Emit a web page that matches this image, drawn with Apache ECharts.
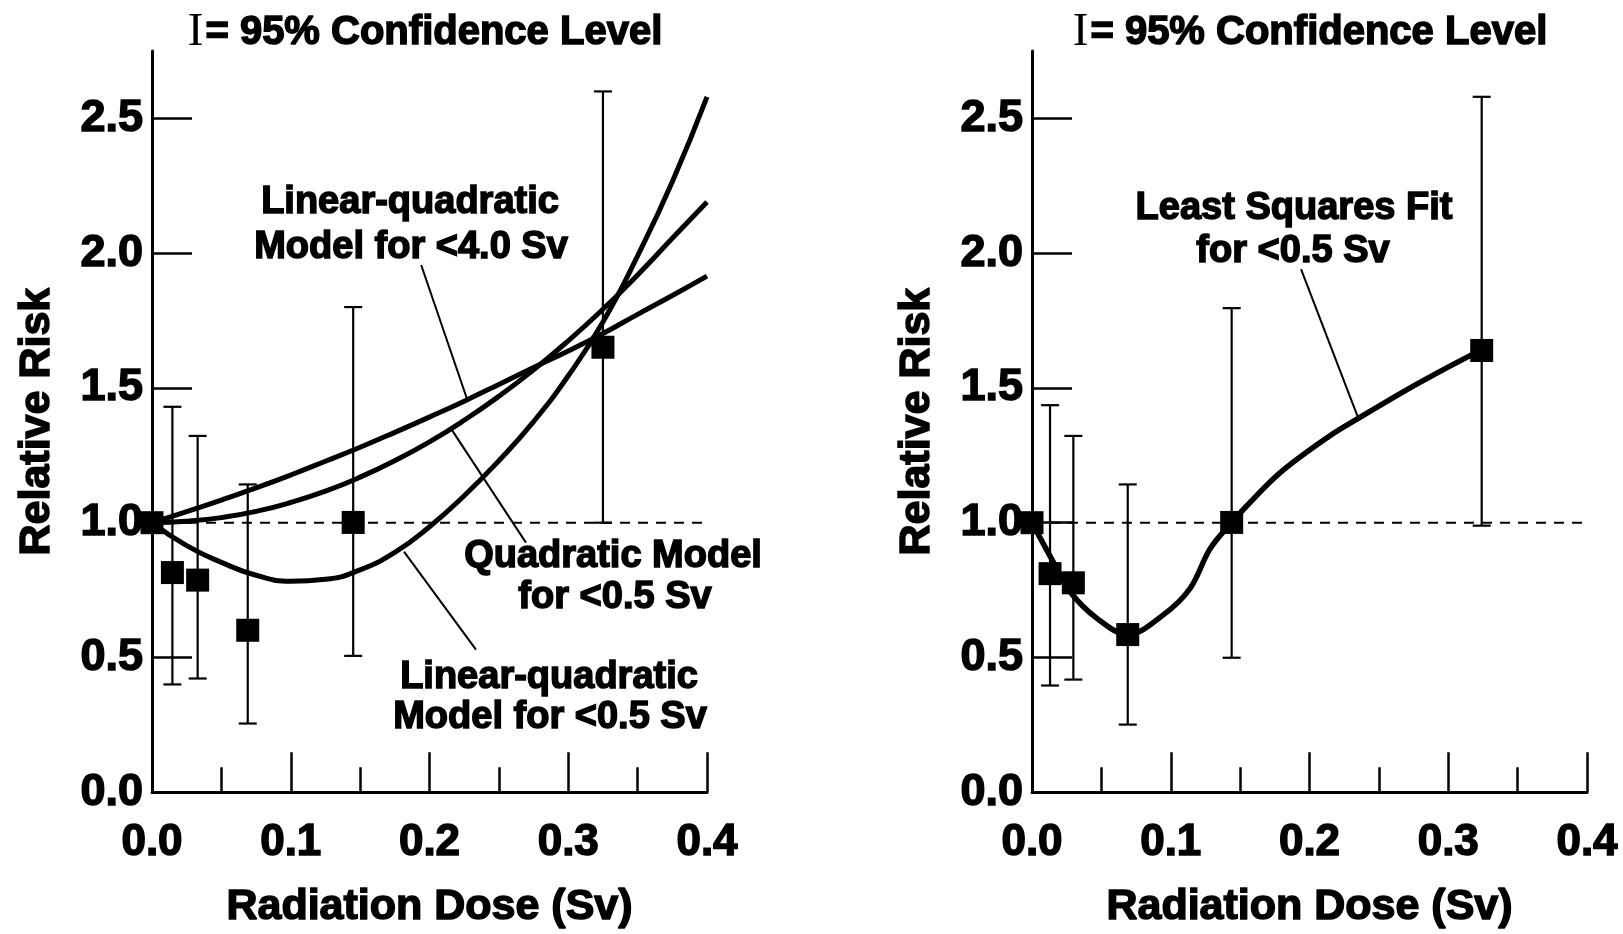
<!DOCTYPE html>
<html>
<head>
<meta charset="utf-8">
<script src="https://cdn.jsdelivr.net/npm/echarts@6/dist/echarts.min.js"></script>
<style>
html,body{margin:0;padding:0;background:#fff;}
#chart{width:1623px;height:934px;}
</style>
</head>
<body>
<div id="chart"></div>
<script>
// ---------- data ----------
const yLabelValues = [0, 0.5, 1.0, 1.5, 2.0, 2.5];
const yTickValues = [0.5, 1.0, 1.5, 2.0, 2.5];

// model curves (left panel), sampled along dose
const curveDose = [0, 0.025, 0.05, 0.075, 0.1, 0.125, 0.15, 0.175, 0.2, 0.225, 0.25, 0.275, 0.3, 0.325, 0.35, 0.375, 0.4];
const linQuad40 = [1.0, 1.041, 1.084, 1.129, 1.177, 1.228, 1.280, 1.335, 1.392, 1.451, 1.513, 1.576, 1.637, 1.702, 1.773, 1.843, 1.915];
const quadratic05 = [1.0, 1.005, 1.019, 1.042, 1.075, 1.117, 1.169, 1.230, 1.300, 1.380, 1.469, 1.567, 1.675, 1.792, 1.919, 2.055, 2.19];
const linQuad05 = [1.0, 0.915, 0.853, 0.805, 0.783, 0.790, 0.825, 0.890, 0.985, 1.100, 1.230, 1.375, 1.545, 1.745, 1.990, 2.265, 2.58];

// observed points (left panel)
const obsDoseL = [0, 0.0147, 0.0329, 0.069, 0.145, 0.325];
const obsRiskL = [1.0, 0.815, 0.787, 0.601, 1.001, 1.651];
const ciLowL = [null, 0.40, 0.422, 0.255, 0.506, 1.0];
const ciHighL = [null, 1.43, 1.322, 1.142, 1.80, 2.60];

// observed points (right panel)
const obsDoseR = [0, 0.013, 0.0298, 0.069, 0.1439, 0.3241];
const obsRiskR = [1.0, 0.811, 0.777, 0.585, 1.001, 1.639];
const ciLowR = [null, 0.396, 0.418, 0.251, 0.499, 0.989];
const ciHighR = [null, 1.436, 1.322, 1.142, 1.796, 2.58];

// least squares fit (right panel)
const lsfDose = [0, 0.0166, 0.0274, 0.0466, 0.069, 0.0946, 0.1139, 0.1283, 0.1439, 0.1547, 0.1787, 0.214, 0.2352, 0.2773, 0.3157, 0.3241];
const lsfRisk = [1.0, 0.842, 0.744, 0.646, 0.585, 0.658, 0.756, 0.903, 1.001, 1.062, 1.185, 1.32, 1.387, 1.514, 1.620, 1.639];

// baseline
const baselineDose = [0, 0.4];
const baselineRisk = [1.0, 1.0];

// annotation leader lines (dose, risk) pairs
const leaderLQ40 = [[0.194, 1.956], [0.227, 1.46]];
const leaderQuad = [[0.2155, 1.349], [0.2695, 0.926]];
const leaderLQ05 = [[0.1816, 0.893], [0.2335, 0.529]];
const leaderLSF = [[0.1939, 1.941], [0.235, 1.39]];

// ---------- chart ----------
const zip = (xs, ys) => xs.map((x, i) => [x, ys[i]]);
const ciData = (xs, lo, hi) => xs.map((x, i) => [x, lo[i], hi[i]]).filter(d => d[1] !== null);

const FONT = 'Liberation Sans, Arial, sans-serif';
const BLACK = '#000';
const heavy = { textBorderColor: BLACK, textBorderWidth: 1.5 };

function xAxisDef(gridIndex) {
  return {
    gridIndex, type: 'value', min: 0, max: 0.4, interval: 0.1,
    axisLine: { show: true, onZero: false, lineStyle: { color: BLACK, width: 3 } },
    axisTick: { show: true, inside: true, length: 40, lineStyle: { color: BLACK, width: 2.5 } },
    minorTick: { show: true, splitNumber: 2, length: 25, lineStyle: { color: BLACK, width: 2.5 } },
    splitLine: { show: false }, minorSplitLine: { show: false },
    axisLabel: Object.assign({ color: BLACK, fontSize: 44, fontWeight: 'bold', fontFamily: FONT, margin: 29,
      formatter: v => v.toFixed(1) }, heavy),
    name: 'Radiation Dose (Sv)', nameLocation: 'middle', nameGap: 93,
    nameTextStyle: Object.assign({ color: BLACK, fontSize: 43, fontWeight: 'bold', fontFamily: FONT }, heavy)
  };
}
function yAxisDef(gridIndex) {
  return {
    gridIndex, type: 'value', min: 0, max: 2.75,
    axisLine: { show: true, onZero: false, lineStyle: { color: BLACK, width: 3 } },
    axisTick: { show: true, inside: true, length: 40, customValues: yTickValues, lineStyle: { color: BLACK, width: 2.5 } },
    splitLine: { show: false },
    axisLabel: Object.assign({ color: BLACK, fontSize: 45, fontWeight: 'bold', fontFamily: FONT, margin: 9,
      customValues: yLabelValues, formatter: v => v.toFixed(1) }, heavy),
    name: 'Relative Risk', nameLocation: 'middle', nameGap: 93, nameRotate: 90,
    nameTextStyle: Object.assign({ color: BLACK, fontSize: 43, fontWeight: 'bold', fontFamily: FONT }, heavy)
  };
}

function errorBarSeries(idx, data) {
  return {
    type: 'custom', xAxisIndex: idx, yAxisIndex: idx, z: 3,
    encode: { x: 0, y: [1, 2] },
    data,
    renderItem: function (params, api) {
      const x = api.value(0);
      const lo = api.coord([x, api.value(1)]);
      const hi = api.coord([x, api.value(2)]);
      const w = 9;
      const st = { stroke: BLACK, lineWidth: 2.2 };
      return {
        type: 'group',
        children: [
          { type: 'line', shape: { x1: lo[0], y1: lo[1], x2: hi[0], y2: hi[1] }, style: st },
          { type: 'line', shape: { x1: hi[0] - w, y1: hi[1], x2: hi[0] + w, y2: hi[1] }, style: st },
          { type: 'line', shape: { x1: lo[0] - w, y1: lo[1], x2: lo[0] + w, y2: lo[1] }, style: st }
        ]
      };
    }
  };
}
function lineSeries(idx, data, width, extra) {
  return Object.assign({
    type: 'line', xAxisIndex: idx, yAxisIndex: idx, data, symbol: 'none', silent: true,
    lineStyle: { color: BLACK, width }, z: 4, animation: false
  }, extra || {});
}
function markerSeries(idx, data) {
  return { type: 'scatter', xAxisIndex: idx, yAxisIndex: idx, data, symbol: 'rect', symbolSize: 23,
    itemStyle: { color: BLACK, opacity: 1 }, z: 6 };
}

function txt(x, y, s, size) {
  return { type: 'text', x, y, style: { text: s, fill: BLACK, font: 'bold ' + (size || 38) + 'px ' + FONT,
    textAlign: 'center', textVerticalAlign: 'middle', stroke: BLACK, lineWidth: 1.5 } };
}
function titleText(x) {
  return {
    type: 'text', x, y: 33,
    style: {
      text: '{i|I}{t|= 95% Confidence Level}',
      textAlign: 'center', textVerticalAlign: 'middle',
      rich: {
        i: { fontFamily: 'Liberation Serif, serif', fontSize: 47, fontWeight: 'normal', fill: BLACK, padding: [0, 2, 0, 0] },
        t: { fontFamily: FONT, fontSize: 40, fontWeight: 'bold', fill: BLACK, stroke: BLACK, lineWidth: 1.5 }
      }
    }
  };
}

const chart = echarts.init(document.getElementById('chart'));
chart.setOption({
  backgroundColor: '#fff',
  animation: false,
  grid: [
    { left: 152, width: 555, top: 51, height: 748 },
    { left: 1032, width: 555, top: 51, height: 748 }
  ],
  xAxis: [xAxisDef(0), xAxisDef(1)],
  yAxis: [yAxisDef(0), yAxisDef(1)],
  series: [
    lineSeries(0, zip(baselineDose, baselineRisk), 2, { lineStyle: { color: BLACK, width: 2, type: [10, 8] }, z: 2 }),
    lineSeries(1, zip(baselineDose, baselineRisk), 2, { lineStyle: { color: BLACK, width: 2, type: [10, 8] }, z: 2 }),
    lineSeries(0, zip(curveDose, linQuad40), 5, { smooth: true }),
    lineSeries(0, zip(curveDose, quadratic05), 5, { smooth: true }),
    lineSeries(0, zip(curveDose, linQuad05), 5, { smooth: true }),
    lineSeries(1, zip(lsfDose, lsfRisk), 5.5, { smooth: 0.35 }),
    lineSeries(0, leaderLQ40, 2),
    lineSeries(0, leaderQuad, 2),
    lineSeries(0, leaderLQ05, 2),
    lineSeries(1, leaderLSF, 2),
    errorBarSeries(0, ciData(obsDoseL, ciLowL, ciHighL)),
    errorBarSeries(1, ciData(obsDoseR, ciLowR, ciHighR)),
    markerSeries(0, zip(obsDoseL, obsRiskL)),
    markerSeries(1, zip(obsDoseR, obsRiskR))
  ],
  graphic: [
    titleText(425), titleText(1310),
    txt(410, 203, 'Linear-quadratic'), txt(411, 248, 'Model for <4.0 Sv'),
    txt(613, 557, 'Quadratic Model'), txt(615, 598, 'for <0.5 Sv'),
    txt(549, 678, 'Linear-quadratic'), txt(550, 718, 'Model for <0.5 Sv'),
    txt(1294, 209, 'Least Squares Fit'), txt(1293, 252, 'for <0.5 Sv')
  ]
});
</script>
</body>
</html>
